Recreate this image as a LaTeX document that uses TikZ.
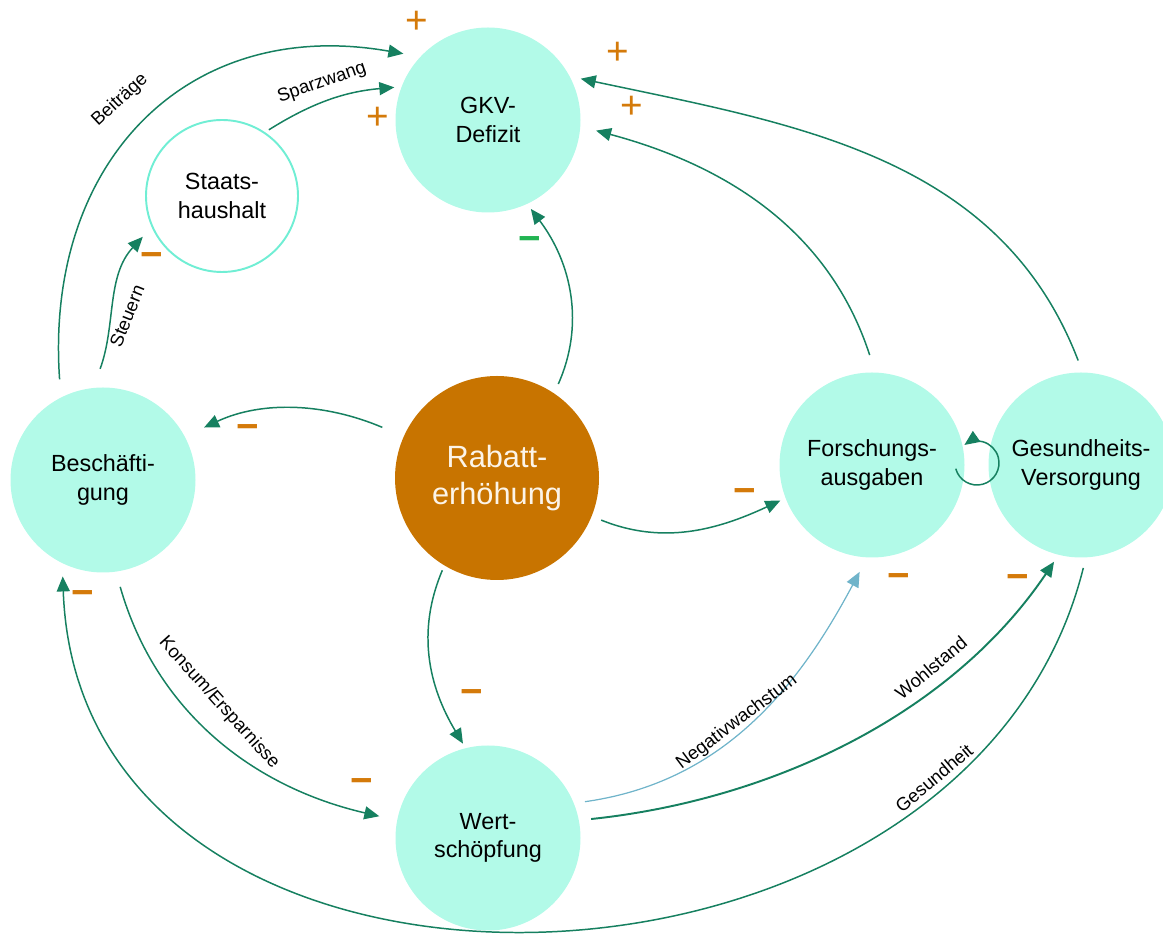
\documentclass[tikz,border=0pt]{standalone}
\usepackage{fontspec}
\setmainfont{Liberation Sans}
\usepackage{tikz}
\usetikzlibrary{shapes.geometric, arrows.meta}

\definecolor{blase}{RGB}{178,250,232}
\definecolor{rand}{RGB}{112,238,212}
\definecolor{rabatt}{RGB}{200,116,0}
\definecolor{pfeil}{RGB}{22,128,96}
\definecolor{hellblau}{RGB}{112,180,202}
\definecolor{zeichen}{RGB}{212,122,10}
\definecolor{gruen}{RGB}{34,180,82}

\begin{document}
\begin{tikzpicture}[
  bubble/.style={circle, fill=blase, inner sep=0pt, minimum size=3.7cm, align=center,
    font=\fontsize{13.3}{16}\selectfont},
  flow/.style={pfeil, line width=0.85pt, -{Triangle[length=0.3cm,width=0.26cm]}},
  lab/.style={font=\fontsize{10.5}{12}\selectfont, inner sep=1pt},
  plus/.style={text=zeichen, font=\fontsize{22}{22}\selectfont, inner sep=0pt},
  minus/.style={text=zeichen, font=\bfseries\fontsize{22}{22}\selectfont, inner sep=0pt}]

\useasboundingbox (0,0) rectangle (23.26,18.76);

\node[bubble] (A) at (9.76,16.36) {GKV-\\Defizit};
\node[bubble, fill=white, draw=rand, line width=1.1pt, minimum size=3.04cm] (B) at (4.44,14.84) {Staats-\\haushalt};
\node[bubble] (C) at (2.06,9.16) {Beschäfti-\\gung};
\node[bubble, fill=rabatt, text={rgb,255:red,252;green,244;blue,232}, minimum size=4.08cm,
  font=\fontsize{17.5}{21}\selectfont] (D) at (9.94,9.2) {Rabatt-\\erhöhung};
\node[bubble] (E) at (17.44,9.46) {Forschungs-\\ausgaben};
\node[bubble] (F) at (21.62,9.46) {Gesundheits-\\Versorgung};
\node[bubble] (G) at (9.76,2.0) {Wert-\\schöpfung};

\draw[flow, shorten <=0.36cm, shorten >=0.34cm] (C.117.5) to[out=94, in=170, looseness=1.22] (A.137.6);
\draw[flow, shorten <=0.09cm, shorten >=0.14cm] (B.56.5) to[out=32, in=185] (A.159.6);
\draw[flow, shorten <=0.4cm, shorten >=0.26cm] (C.96.6) to[out=70, in=227] (B.204.3);
\draw[flow, shorten <=0.2cm, shorten >=0.12cm] (D.56.3) to[out=66, in=-53] (A.-65);
\draw[flow, shorten <=0.46cm, shorten >=0.42cm] (D.156.5) to[out=157, in=25] (C.28.4);
\draw[flow, shorten <=0.2cm, shorten >=0.11cm] (D.-22.7) to[out=-22, in=205] (E.201);
\draw[flow, shorten <=0.1cm, shorten >=0.1cm] (D.239.6) to[out=-113, in=121] (G.104.6);
\draw[flow, shorten <=0.36cm, shorten >=0.32cm] (E.88.4) to[out=108, in=-15] (A.-4.7);
\draw[flow, shorten <=0.25cm, shorten >=0.22cm] (F.89.5) to[out=111, in=-12] (A.28);
\draw[flow, shorten <=0.31cm, shorten >=0.36cm] (C.-82) to[out=-74, in=167] (G.169.2);
\draw[flow, shorten <=0.21cm, shorten >=0.26cm] (F.-87.2) to[out=-104, in=-88, looseness=1.24] (C.244.2);
\draw[flow, hellblau, line width=0.7pt, shorten <=0.22cm, shorten >=0.32cm] (G.22.9) to[out=8, in=242] (E.267.9);
\draw[flow, line width=1.1pt, shorten <=0.24cm, shorten >=0.16cm] (G.11.4) to[out=6, in=236, looseness=0.9] (F.256.8);

\coordinate (loop) at (19.54,9.5);
\draw[flow] (loop) ++(195:0.44) arc[start angle=195, end angle=485, radius=0.44];

\node[lab, rotate=43] (a) at (2.4,16.76) {Beiträge};
\node[lab, rotate=19] (b) at (6.44,17.1) {Sparzwang};
\node[lab, rotate=68] (c) at (2.54,12.44) {Steuern};
\node[lab, rotate=-48] (d) at (4.38,4.7) {Konsum/Ersparnisse};
\node[lab, rotate=37] (e) at (14.74,4.32) {Negativwachstum};
\node[lab, rotate=40] (f) at (18.62,5.4) {Wohlstand};
\node[lab, rotate=40] (g) at (18.68,3.2) {Gesundheit};

\node[plus] (p1) at (8.34,18.32) {+};
\node[plus] (p2) at (7.56,16.4) {+};
\node[plus] (p3) at (12.36,17.7) {+};
\node[plus] (p4) at (12.64,16.62) {+};
\node[minus] (m1) at (3.04,13.56) {−};
\node[minus] (m2) at (4.96,10.12) {−};
\node[minus] (m3) at (1.66,6.8) {−};
\node[minus] (m4) at (7.24,3.04) {−};
\node[minus] (m5) at (9.44,4.82) {−};
\node[minus] (m6) at (14.9,8.84) {−};
\node[minus, text=gruen] (m7) at (10.6,13.88) {−};
\node[minus] (m8) at (17.98,7.14) {−};
\node[minus] (m9) at (20.36,7.12) {−};
\end{tikzpicture}
\end{document}
